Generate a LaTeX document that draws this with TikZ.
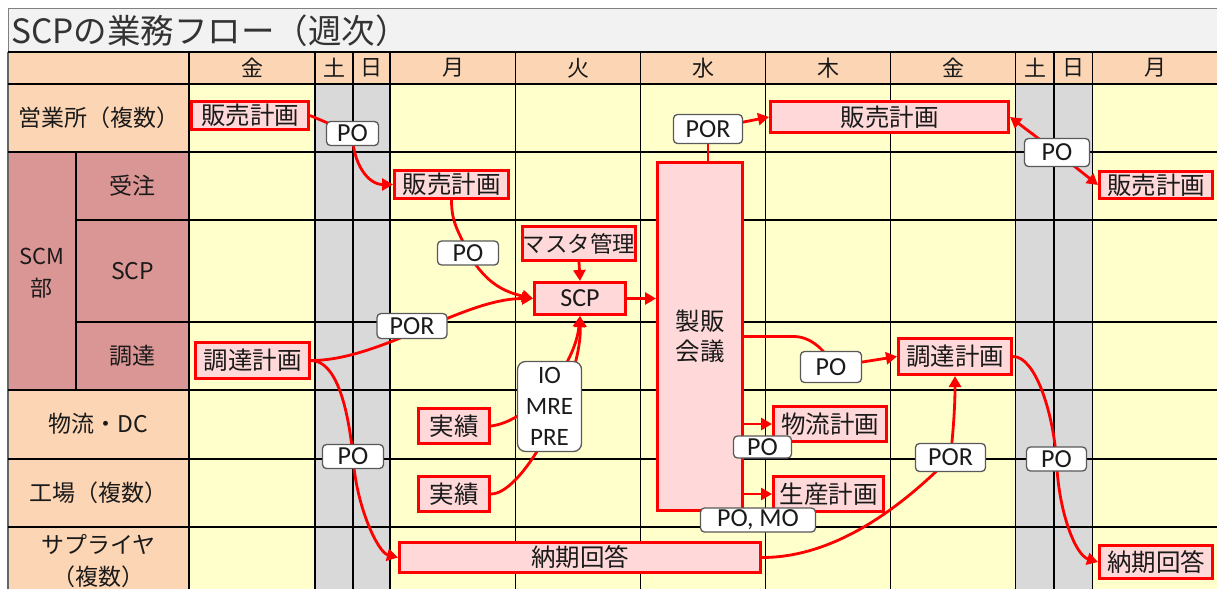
\documentclass[tikz,border=0pt]{standalone}
\usepackage{fontspec}
\setmainfont{Noto Sans CJK JP}
\newfontfamily\lat{Carlito}
\usetikzlibrary{arrows.meta,calc}
\definecolor{peach}{HTML}{FCD5B4}
\definecolor{scmred}{HTML}{DA9694}
\definecolor{cellyel}{HTML}{FFFFCC}
\definecolor{wkgray}{HTML}{D9D9D9}
\definecolor{titlebg}{HTML}{F2F2F2}
\definecolor{boxpink}{HTML}{FFD9D9}
\definecolor{txt}{HTML}{1A1A1A}
\pgfdeclarelayer{grid}
\pgfdeclarelayer{edges}
\pgfsetlayers{grid,edges,main}
\begin{document}
\begin{tikzpicture}[x=1pt,y=-1pt,
  rbox/.style={draw=red, fill=boxpink, line width=3pt, inner sep=0pt, text=txt, font=\fontsize{24.5}{26}\selectfont},
  lbl/.style={draw=black!65, fill=white, line width=1.3pt, rounded corners=4pt, inner sep=0pt, text=txt, font=\lat\fontsize{26}{28}\selectfont},
  conn/.style={draw=red, line width=2.8pt},
  arr/.style={conn, -{Triangle[length=11pt,width=12pt]}},
  hdr/.style={text=txt, font=\fontsize{22}{24}\selectfont},
  lab/.style={text=txt, font=\fontsize{23}{32}\selectfont},
  gline/.style={line width=1.4pt, draw=black}]
\useasboundingbox (0,0) rectangle (1217,589);
\begin{pgfonlayer}{grid}
  \fill[white] (0,0) rectangle (1217,589);
  \filldraw[fill=titlebg, draw=black!50, line width=1pt] (8,8) rectangle (1217,52);
  \fill[peach] (8,52) rectangle (1217,84);
  \fill[peach] (8,84) rectangle (189,589);
  \fill[scmred] (8,152) rectangle (189,390);
  \fill[cellyel] (189,84) rectangle (1217,589);
  \fill[wkgray] (315,84) rectangle (390,589);
  \fill[wkgray] (1015.7,84) rectangle (1092.3,589);
  \foreach \xx in {189,315,353,390,515.7,640.7,765.7,890.7,1015.7,1054,1092.3}
    \draw[gline] (\xx,52) -- (\xx,589);
  \draw[gline, draw=black!60] (8,52) -- (8,589);
  \foreach \yy in {52,84,152,390,459,527}
    \draw[gline] (8,\yy) -- (1217,\yy);
  \foreach \yy in {220,322}
    \draw[gline] (76,\yy) -- (1217,\yy);
  \draw[gline] (76,152) -- (76,390);
\end{pgfonlayer}

% title
\node[anchor=west, text=black!80, font=\fontsize{33.5}{36}\selectfont, inner sep=0pt] (ttl) at (11,31) {SCPの業務フロー（週次）};

% header
\node[hdr] (d1) at (252,68) {金};
\node[hdr] (d2) at (334,68) {土};
\node[hdr] (d3) at (371.5,68) {日};
\node[hdr] (d4) at (453,68) {月};
\node[hdr] (d5) at (578,68) {火};
\node[hdr] (d6) at (703,68) {水};
\node[hdr] (d7) at (828,68) {木};
\node[hdr] (d8) at (953,68) {金};
\node[hdr] (d9) at (1035,68) {土};
\node[hdr] (d10) at (1073,68) {日};
\node[hdr] (d11) at (1155,68) {月};

% row labels
\node[lab] (r1) at (98.5,118) {営業所（複数）};
\node[lab, align=center, font=\fontsize{22}{32}\selectfont] (scm) at (42,273) {SCM\\部};
\node[lab] (r2) at (132.5,186) {受注};
\node[lab] (r3) at (132.5,271) {SCP};
\node[lab] (r4) at (132.5,356) {調達};
\node[lab] (r5) at (98.5,424) {物流・DC};
\node[lab] (r6) at (98.5,493) {工場（複数）};
\node[lab, align=center] (r7) at (98.5,561) {サプライヤ\\（複数）};

% red boxes
\node[rbox, minimum width=117pt, minimum height=28pt] (hb1) at (250,115.5) {販売計画};
\node[rbox, minimum width=114pt, minimum height=28pt] (hb2) at (451.5,184.5) {販売計画};
\node[rbox, minimum width=113pt, minimum height=34pt, font=\fontsize{22.5}{24}\selectfont] (mst) at (579,243.5) {マスタ管理};
\node[rbox, minimum width=91pt, minimum height=32pt, font=\lat\fontsize{26}{28}\selectfont] (scp) at (580,298.5) {SCP};
\node[rbox, minimum width=85pt, minimum height=348pt, align=center, font=\fontsize{24.5}{30}\selectfont] (smk) at (700,336.5) {製販\\会議};
\node[rbox, minimum width=238pt, minimum height=31pt] (hb3) at (889.5,117) {販売計画};
\node[rbox, minimum width=113pt, minimum height=27pt] (hb4) at (1156,185) {販売計画};
\node[rbox, minimum width=114pt, minimum height=36pt] (ch1) at (252.5,360.5) {調達計画};
\node[rbox, minimum width=71pt, minimum height=35pt] (js1) at (454,426) {実績};
\node[rbox, minimum width=71pt, minimum height=35pt] (js2) at (454,494) {実績};
\node[rbox, minimum width=113pt, minimum height=35pt] (bt) at (830,424) {物流計画};
\node[rbox, minimum width=110pt, minimum height=35pt] (ss) at (828.5,494) {生産計画};
\node[rbox, minimum width=361pt, minimum height=30pt] (nk1) at (580,557.5) {納期回答};
\node[rbox, minimum width=113pt, minimum height=36pt] (ch2) at (955,356.5) {調達計画};
\node[rbox, minimum width=113pt, minimum height=33pt] (nk2) at (1156,562) {納期回答};

% white labels
\node[lbl, minimum width=52pt, minimum height=24pt] (po1) at (352.5,133.5) {PO};
\node[lbl, minimum width=61pt, minimum height=24pt] (po2) at (468,253) {PO};
\node[lbl, minimum width=69pt, minimum height=29pt] (por1) at (708,129) {POR};
\node[lbl, minimum width=65pt, minimum height=28pt] (po3) at (1057,152.5) {PO};
\node[lbl, minimum width=70pt, minimum height=25pt] (por2) at (412,326) {POR};
\node[lbl, minimum width=64pt, minimum height=90pt, align=center, rounded corners=8pt, font=\lat\fontsize{25}{31}\selectfont] (iom) at (549.5,406.5) {IO\\MRE\\PRE};
\node[lbl, minimum width=61pt, minimum height=24pt] (po4) at (353,456.5) {PO};
\node[lbl, minimum width=61pt, minimum height=31pt] (po5) at (831,367) {PO};
\node[lbl, minimum width=58pt, minimum height=22pt] (po6) at (762.5,447) {PO};
\node[lbl, minimum width=115pt, minimum height=24pt] (pomo) at (758,520) {PO, MO};
\node[lbl, minimum width=70pt, minimum height=28pt] (por3) at (950.5,457.5) {POR};
\node[lbl, minimum width=60pt, minimum height=24pt] (po7) at (1056.5,459) {PO};

\begin{pgfonlayer}{edges}
  \draw[conn] (hb1.east) -- (po1.center);
  \draw[arr] (po1.center) .. controls +(0,30) and +(-25,0) .. (hb2.west);
  \draw[conn] (hb2.south) .. controls +(0,25) and +(-8,-20) .. (po2.center);
  \draw[arr] (po2.center) .. controls +(15,25) and +(-35,-8) .. (scp.west);
  \draw[arr] (ch1.east) .. controls +(70,0) and +(-70,0) .. (scp.west);
  \draw[arr] (mst.south) -- (scp.north);
  \draw[arr] (scp.east) -- (scp.east -| smk.west);
  \draw[arr] (js1.east) .. controls +(40,-5) and +(-5,50) .. (scp.south);
  \draw[arr] (js2.east) .. controls +(34,0) and +(2,64) .. (scp.south);
  \draw[conn] (ch1.east) .. controls +(25,0) and +(-5,-50) .. (po4.center);
  \draw[arr] (po4.center) .. controls +(3,50) and +(-20,-5) .. (nk1.west);
  \draw[conn] (por1.center) -- (por1.center |- smk.north);
  \draw[arr] (por1.center) -- (hb3.west);
  \draw[arr] (po3.center) -- (hb3.east);
  \draw[arr] (po3.center) -- (hb4.west);
  \draw[conn] (smk.east) -- ++(50,0) .. controls +(20,0) and +(0,-10) .. (po5.center);
  \draw[arr] (po5.center) -- (ch2.west);
  \draw[arr] (bt.west -| smk.east) -- (bt.west);
  \draw[arr] (ss.west -| smk.east) -- (ss.west);
  \draw[conn] (nk1.east) .. controls +(80,0) and +(-40,40) .. (por3.center);
  \draw[arr] (por3.center) .. controls +(3,-30) and +(0,30) .. (ch2.south);
  \draw[conn] (ch2.east) .. controls +(22,0) and +(-4,-49) .. (po7.center);
  \draw[arr] (po7.center) .. controls +(1.5,51) and +(-23,-7) .. (nk2.west);
\end{pgfonlayer}
\end{tikzpicture}
\end{document}
